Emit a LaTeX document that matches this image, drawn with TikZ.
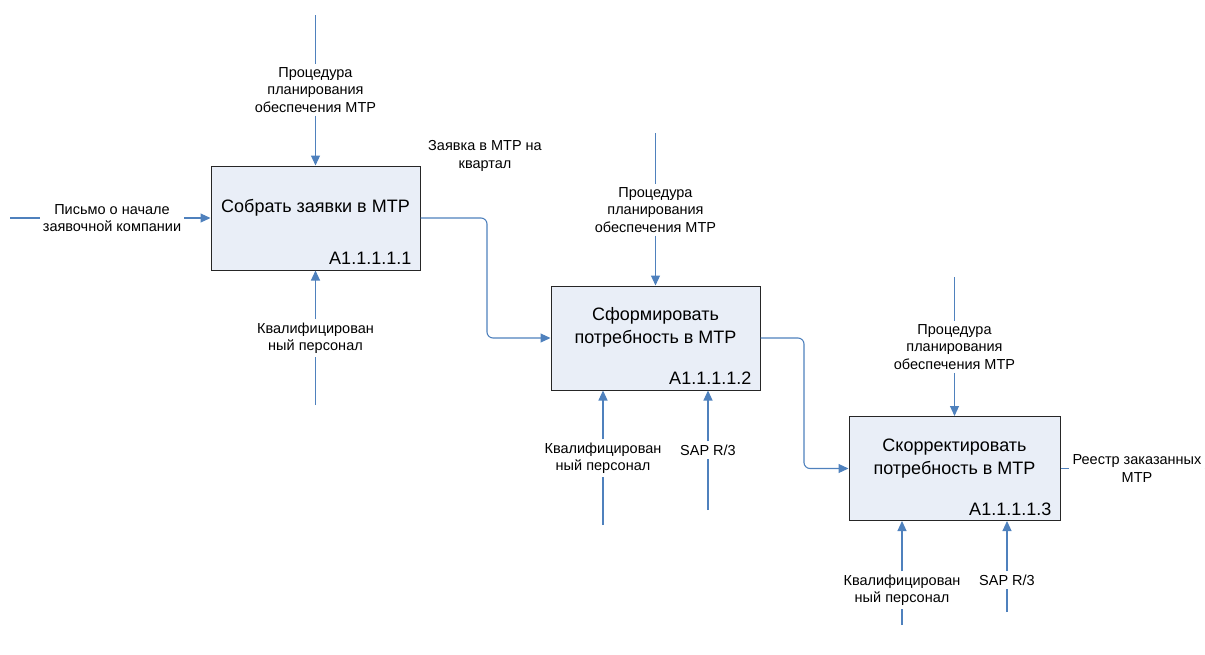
\documentclass[tikz,border=0pt]{standalone}
\usepackage{fontspec}
\setmainfont{Liberation Sans}
\usetikzlibrary{arrows.meta, positioning, calc}
\definecolor{idefline}{HTML}{4F81BD}
\definecolor{idefbox}{HTML}{E9EEF7}
\tikzset{
  %% Function block
  fbox/.style={
    rectangle, draw=black!85, fill=idefbox,
    line width=1pt, inner sep=0pt,
    minimum width=209pt, minimum height=104pt
  },
  %% Block title and number
  ftitle/.style={align=center, font=\fontsize{18}{23}\selectfont},
  fid/.style={anchor=base east, inner sep=0pt,
              font=\fontsize{18}{20}\selectfont},
  %% Arrow label
  lbl/.style={align=center, inner sep=3pt,
              font=\fontsize{14.5}{17.5}\selectfont},
  %% Connectors
  flow/.style={draw=idefline, line width=1.1pt},
  arr/.style={flow, -{Triangle[length=10pt,width=9pt]}},
}

\begin{document}
\begin{tikzpicture}[x=1pt, y=-1pt]
  \useasboundingbox (0,0) rectangle (1205,654);

  %% Function blocks
  \node[fbox] (blk1) at (315.5,218) {};
  \node[fbox] (blk2) at (655.5,338) {};
  \node[fbox, minimum width=211pt] (blk3) at (954.5,468.5) {};

  \node[ftitle] (ttl1) at ([yshift=10pt]blk1.center) {Собрать заявки в МТР};
  \node[ftitle] (ttl2) at ([yshift=11pt]blk2.center) {Сформировать\\потребность в МТР};
  \node[ftitle] (ttl3) at ([yshift=10pt]blk3.center) {Скорректировать\\потребность в МТР};

  \node[fid] (id1) at ([xshift=-9pt,yshift=6pt]blk1.south east) {A1.1.1.1.1};
  \node[fid] (id2) at ([xshift=-9pt,yshift=6pt]blk2.south east) {A1.1.1.1.2};
  \node[fid] (id3) at ([xshift=-9pt,yshift=6pt]blk3.south east) {A1.1.1.1.3};

  %% Block 1: control, input, mechanism
  \coordinate (ctl1src) at (315.5,15);
  \node[lbl] (ctl1) at (315.5,90) {Процедура\\планирования\\обеспечения МТР};
  \draw[flow] (ctl1src) -- (ctl1);
  \draw[arr] (ctl1) -- (blk1);

  \coordinate (in1src) at (10,218);
  \node[lbl] (in1) at (112,218) {Письмо о начале\\заявочной компании};
  \draw[flow] (in1src) -- (in1);
  \draw[arr] (in1) -- (blk1);

  \coordinate (mec1src) at (315.5,405);
  \node[lbl] (mec1) at (315.5,338) {Квалифицирован\\ный персонал};
  \draw[flow] (mec1src) -- (mec1);
  \draw[arr] (mec1) -- (blk1);

  %% Block 1 -> Block 2
  \node[lbl] (out1) at (485,156) {Заявка в МТР на\\квартал};
  \coordinate (bend1) at (487,218);
  \draw[arr, rounded corners=6pt] (blk1.east) -- (bend1) |- (blk2.west);

  %% Block 2: control, mechanisms
  \coordinate (ctl2src) at (655.5,133);
  \node[lbl] (ctl2) at (655.5,210) {Процедура\\планирования\\обеспечения МТР};
  \draw[flow] (ctl2src) -- (ctl2);
  \draw[arr] (ctl2) -- (blk2);

  \coordinate (mec2asrc) at (603,525);
  \node[lbl] (mec2a) at (603,458) {Квалифицирован\\ный персонал};
  \draw[flow] (mec2asrc) -- (mec2a);
  \draw[arr] (mec2a) -- (mec2a |- blk2.south);

  \coordinate (mec2bsrc) at (708,510);
  \node[lbl] (mec2b) at (708,450) {SAP R/3};
  \draw[flow] (mec2bsrc) -- (mec2b);
  \draw[arr] (mec2b) -- (mec2b |- blk2.south);

  %% Block 2 -> Block 3
  \coordinate (bend2) at (804,338);
  \draw[arr, rounded corners=6pt] (blk2.east) -- (bend2) |- (blk3.west);

  %% Block 3: control, mechanisms, output
  \coordinate (ctl3src) at (954.5,277);
  \node[lbl] (ctl3) at (954.5,347) {Процедура\\планирования\\обеспечения МТР};
  \draw[flow] (ctl3src) -- (ctl3);
  \draw[arr] (ctl3) -- (blk3);

  \coordinate (mec3asrc) at (902,625);
  \node[lbl] (mec3a) at (902,590) {Квалифицирован\\ный персонал};
  \draw[flow] (mec3asrc) -- (mec3a);
  \draw[arr] (mec3a) -- (mec3a |- blk3.south);

  \coordinate (mec3bsrc) at (1007,612);
  \node[lbl] (mec3b) at (1007,580) {SAP R/3};
  \draw[flow] (mec3bsrc) -- (mec3b);
  \draw[arr] (mec3b) -- (mec3b |- blk3.south);

  \coordinate (out3dst) at (1205,468.5);
  \node[lbl] (out3) at (1137,468.5) {Реестр заказанных\\МТР};
  \draw[flow] (blk3) -- (out3);
  \draw[flow] (out3) -- (out3dst);

\end{tikzpicture}
\end{document}
